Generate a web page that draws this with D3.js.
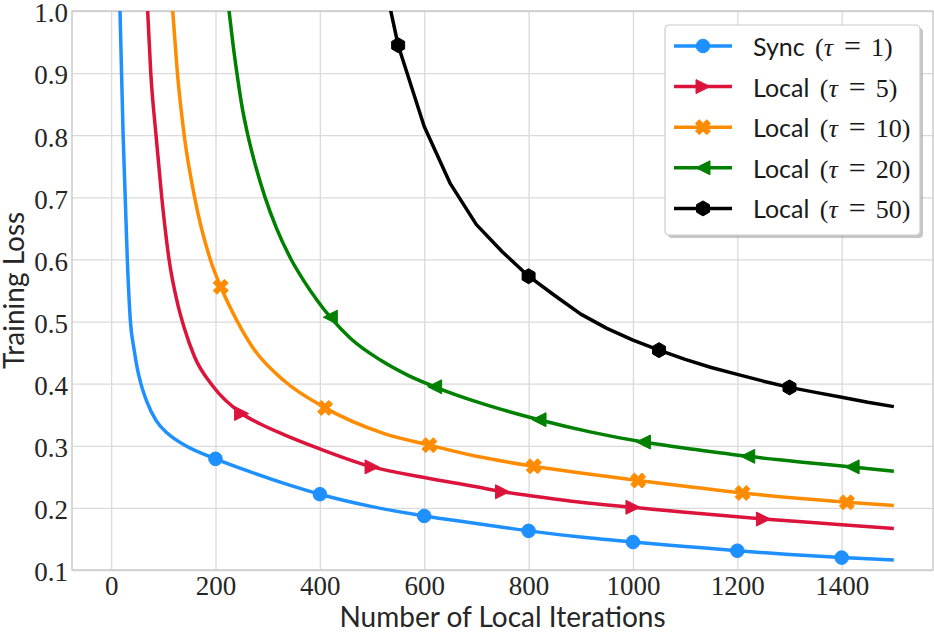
<!DOCTYPE html>
<html><head><meta charset="utf-8">
<script src="https://cdn.jsdelivr.net/npm/d3@7"></script>
<style>body{margin:0;background:#fff;} svg{display:block;}</style>
</head><body>
<svg id="c" width="934" height="633"></svg>
<script>
// ---------- data ----------
const syncX = [15,17,20,23,27,31,37,44,50,57,68,86,108,143,200,267,333,400,500,600,700,800,900,1000,1100,1200,1300,1400,1500];
const syncY = [1.07,1.0,0.9,0.8,0.7,0.6,0.5,0.455,0.425,0.4,0.372,0.341,0.32,0.3,0.279,0.258,0.239,0.222,0.202,0.187,0.175,0.163,0.153,0.145,0.138,0.131,0.125,0.120,0.116];
const syncMarkX = [200,400,600,800,1000,1200,1400];

const local5X = [66,70,76,86,97,111,127,140,160,194,250,286,331,400,500,600,700,750,800,900,1000,1100,1250,1400,1500];
const local5Y = [1.06,1.0,0.9,0.8,0.7,0.6,0.53,0.49,0.443,0.397,0.352,0.335,0.318,0.295,0.266,0.249,0.234,0.226,0.220,0.209,0.201,0.193,0.182,0.173,0.167];
const local5MarkX = [250,500,750,1000,1250];

const local10X = [114,118,127,140,160,190,210,242,274,331,410,522,610,700,810,900,1010,1100,1210,1310,1410,1500];
const local10Y = [1.05,1.0,0.9,0.8,0.7,0.6,0.556,0.5,0.455,0.405,0.361,0.320,0.301,0.283,0.267,0.256,0.244,0.235,0.224,0.216,0.209,0.204];
const local10MarkX = [210,410,610,810,1010,1210,1410];

const local20X = [221,226,233,241,250,262,277,295,317,345,369,395,420,460,516,570,620,707,820,920,1020,1120,1220,1320,1420,1500];
const local20Y = [1.04,1.0,0.95,0.9,0.85,0.8,0.75,0.7,0.65,0.6,0.566,0.534,0.507,0.472,0.438,0.413,0.395,0.369,0.342,0.322,0.306,0.294,0.283,0.274,0.266,0.259];
const local20MarkX = [420,620,820,1020,1220,1420];

const local50X = [500,550,600,650,700,750,800,850,900,950,1000,1050,1100,1150,1200,1250,1300,1350,1400,1450,1500];
const local50Y = [1.14,0.945,0.814,0.722,0.656,0.612,0.573,0.542,0.512,0.489,0.470,0.454,0.439,0.426,0.415,0.404,0.394,0.386,0.378,0.370,0.363];
const local50MarkX = [550,800,1050,1300];

const seriesNames = ["Sync","Local","Local","Local","Local"];
const tauValues = ["1","5","10","20","50"];
const xTicks = [0,200,400,600,800,1000,1200,1400];
const yTicks = [0.1,0.2,0.3,0.4,0.5,0.6,0.7,0.8,0.9,1.0];
const xLabel = "Number of Local Iterations";
const yLabel = "Training Loss";

// ---------- styles ----------
const SERIF = "'Liberation Serif','DejaVu Serif',serif";
const SANS = "Lato,'Open Sans',sans-serif";
const TXT = "#262626";

// marker shapes (matplotlib-like)
const hexagon = {draw(ctx,size){const R=Math.sqrt(size)/2;for(let k=0;k<6;k++){const a=-Math.PI/2+k*Math.PI/3;const px=R*Math.cos(a),py=R*Math.sin(a);k?ctx.lineTo(px,py):ctx.moveTo(px,py);}ctx.closePath();}};
const triRight = {draw(ctx,size){const r=Math.sqrt(size)/2;ctx.moveTo(r,0);ctx.lineTo(-r,-r);ctx.lineTo(-r,r);ctx.closePath();}};
const triLeft = {draw(ctx,size){const r=Math.sqrt(size)/2;ctx.moveTo(-r,0);ctx.lineTo(r,-r);ctx.lineTo(r,r);ctx.closePath();}};
const xFilled = {draw(ctx,size){const s=Math.sqrt(size)/2/2.83;const pts=[[-1,-3],[1,-3],[1,-1],[3,-1],[3,1],[1,1],[1,3],[-1,3],[-1,1],[-3,1],[-3,-1],[-1,-1]];const c=Math.SQRT1_2;pts.forEach((p,i)=>{const px=(p[0]-p[1])*c*s,py=(p[0]+p[1])*c*s;i?ctx.lineTo(px,py):ctx.moveTo(px,py);});ctx.closePath();}};

const series = [
  {xs:syncX, ys:syncY, mx:syncMarkX, color:"#1E90FF", sym:d3.symbolCircle, size:Math.PI*6.8*6.8, curve:d3.curveMonotoneX},
  {xs:local5X, ys:local5Y, mx:local5MarkX, color:"#DC143C", sym:triRight, size:14*14, curve:d3.curveMonotoneX},
  {xs:local10X, ys:local10Y, mx:local10MarkX, color:"#FF8C00", sym:xFilled, size:15*15, curve:d3.curveMonotoneX},
  {xs:local20X, ys:local20Y, mx:local20MarkX, color:"#008000", sym:triLeft, size:14*14, curve:d3.curveMonotoneX},
  {xs:local50X, ys:local50Y, mx:local50MarkX, color:"#000000", sym:hexagon, size:15*15, curve:d3.curveLinear}
];

const M = {left:72, right:933, top:11, bottom:570};
const x = d3.scaleLinear().domain([-75,1575]).range([M.left,M.right]);
const y = d3.scaleLinear().domain([0.1,1.0]).range([M.bottom,M.top]);
const svg = d3.select("#c");

svg.append("defs").append("clipPath").attr("id","clip")
  .append("rect").attr("x",M.left).attr("y",M.top).attr("width",M.right-M.left).attr("height",M.bottom-M.top);

// grid
const gx = svg.append("g").attr("transform",`translate(0,${M.bottom})`)
  .call(d3.axisBottom(x).tickValues(xTicks).tickSize(-(M.bottom-M.top)).tickFormat(""));
const gy = svg.append("g").attr("transform",`translate(${M.left},0)`)
  .call(d3.axisLeft(y).tickValues(yTicks).tickSize(-(M.right-M.left)).tickFormat(""));
[gx,gy].forEach(g=>{g.select(".domain").remove();g.selectAll(".tick line").attr("stroke","#dadada").attr("stroke-width",1.3);});

// spines
svg.append("rect").attr("x",M.left).attr("y",M.top).attr("width",M.right-M.left).attr("height",M.bottom-M.top)
  .attr("fill","none").attr("stroke","#cccccc").attr("stroke-width",1.5);

// tick labels
const tx = svg.append("g").attr("transform",`translate(0,${M.bottom})`)
  .call(d3.axisBottom(x).tickValues(xTicks).tickSize(0).tickPadding(6).tickFormat(d3.format("d")));
const ty = svg.append("g").attr("transform",`translate(${M.left},0)`)
  .call(d3.axisLeft(y).tickValues(yTicks).tickSize(0).tickPadding(4).tickFormat(d3.format(".1f")));
[tx,ty].forEach(g=>{g.attr("font-family",SERIF).attr("font-size",27);g.select(".domain").remove();g.selectAll("text").attr("font-family",SERIF).attr("font-size",27).attr("fill",TXT);});
ty.selectAll("text").attr("dy","0.4em");

// axis labels
svg.append("text").attr("x",(M.left+M.right)/2).attr("y",627).attr("text-anchor","middle")
  .attr("font-family",SANS).attr("font-size",28).attr("fill",TXT).text(xLabel);
svg.append("text").attr("transform",`translate(24,${(M.top+M.bottom)/2}) rotate(-90)`).attr("text-anchor","middle")
  .attr("font-family",SANS).attr("font-size",28).attr("fill",TXT).text(yLabel);

// lines + markers
const plot = svg.append("g").attr("clip-path","url(#clip)");
series.forEach(s=>{
  const pts = s.xs.map((v,i)=>[v,s.ys[i]]);
  plot.append("path").datum(pts).attr("fill","none").attr("stroke",s.color).attr("stroke-width",3.5)
    .attr("stroke-linejoin","round").attr("stroke-linecap","butt")
    .attr("d",d3.line().x(d=>x(d[0])).y(d=>y(d[1])).curve(s.curve));
});
series.forEach(s=>{
  const mpts = s.mx.map(v=>[v,s.ys[s.xs.indexOf(v)]]);
  svg.append("g").selectAll("path").data(mpts).join("path")
    .attr("transform",d=>`translate(${x(d[0])},${y(d[1])})`)
    .attr("d",d3.symbol().type(s.sym).size(s.size))
    .attr("fill",s.color).attr("stroke",s.color).attr("stroke-width",1);
});

// legend
const L = {x:665, y:25, w:255, h:210};
const lg = svg.append("g").attr("transform",`translate(${L.x},${L.y})`);
lg.append("rect").attr("x",3).attr("y",3).attr("width",L.w).attr("height",L.h).attr("rx",4).attr("fill","#a0a0a0").attr("opacity",0.6);
lg.append("rect").attr("width",L.w).attr("height",L.h).attr("rx",4).attr("fill","#fff").attr("stroke","#cccccc").attr("stroke-width",1.2);
series.forEach((s,i)=>{
  const ry = 21 + i*40.6;
  const row = lg.append("g").attr("transform",`translate(0,${ry})`);
  row.append("line").attr("x1",9).attr("x2",67).attr("y1",0).attr("y2",0).attr("stroke",s.color).attr("stroke-width",3.5);
  row.append("path").attr("transform","translate(38,0)").attr("d",d3.symbol().type(s.sym).size(s.size)).attr("fill",s.color).attr("stroke",s.color);
  const t = row.append("text").attr("x",88).attr("y",10).attr("fill","#1a1a1a");
  t.append("tspan").attr("font-family",SANS).attr("font-size",25).text(seriesNames[i]+" ");
  t.append("tspan").attr("font-family",SERIF).attr("font-size",26).attr("dx",4).text("(");
  t.append("tspan").attr("font-family",SERIF).attr("font-size",26).attr("font-style","italic").text("τ");
  t.append("tspan").attr("font-family",SERIF).attr("font-size",30).attr("dx",11).text("=");
  t.append("tspan").attr("font-family",SERIF).attr("font-size",26).attr("dx",10).text(tauValues[i]+")");
});
</script>
</body></html>
